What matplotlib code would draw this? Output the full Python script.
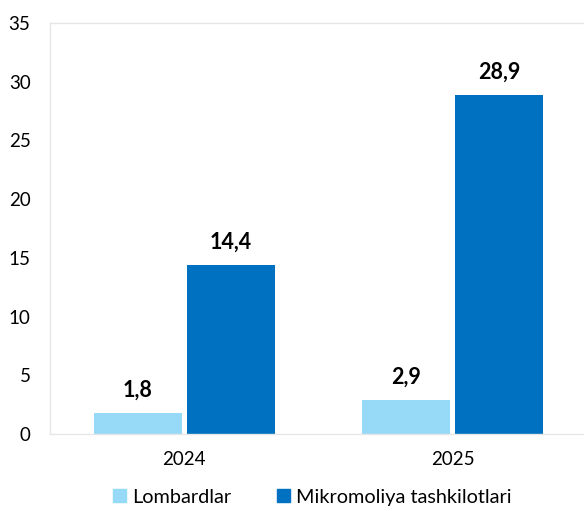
import matplotlib
matplotlib.use("Agg")
import matplotlib.pyplot as plt
import numpy as np
from matplotlib.patches import Patch

categories = ["2024", "2025"]
series_names = ["Lombardlar", "Mikromoliya tashkilotlari"]
lombardlar = [1.8, 2.9]
mikromoliya = [14.4, 28.9]
colors = ["#97DAF7", "#0070C0"]

plt.rcParams['font.family'] = ['Lato', 'DejaVu Sans']

fig = plt.figure(figsize=(5.84, 5.11), dpi=100)
ax = fig.add_axes([50/584, 1-434/511, 537/584, (434-23)/511])

x = np.arange(len(categories)) + 0.5
w = 0.328
gap = 0.009
b1 = ax.bar(x - w/2 - gap, lombardlar, w, color=colors[0], label=series_names[0])
b2 = ax.bar(x + w/2 + gap, mikromoliya, w, color=colors[1], label=series_names[1])

for bars, vals in ((b1, lombardlar), (b2, mikromoliya)):
    for r, v in zip(bars, vals):
        ax.text(r.get_x() + r.get_width()/2, v + 1.0, f"{v:.1f}".replace(".", ","),
                ha="center", va="bottom", fontsize=15.5, fontweight="bold", color="black")

ax.set_xlim(0, 2)
ax.set_ylim(0, 35)
ax.set_yticks(range(0, 36, 5))
ax.set_xticks(x)
ax.set_xticklabels(categories)
ax.tick_params(axis="both", length=0, labelsize=13.5, colors="black")
ax.tick_params(axis="y", pad=14)
ax.tick_params(axis="x", pad=12)
for s in ax.spines.values():
    s.set_color("#E6E6E6")
    s.set_linewidth(1.0)

handles = [Patch(color=colors[0]), Patch(color=colors[1])]
fig.legend(handles, series_names, loc="center", bbox_to_anchor=(0.535, 1-497/511),
           ncol=2, frameon=False, fontsize=14.3, handlelength=0.65, handleheight=0.65,
           handletextpad=0.3, columnspacing=2.3)

fig.savefig("out.png", dpi=100)
